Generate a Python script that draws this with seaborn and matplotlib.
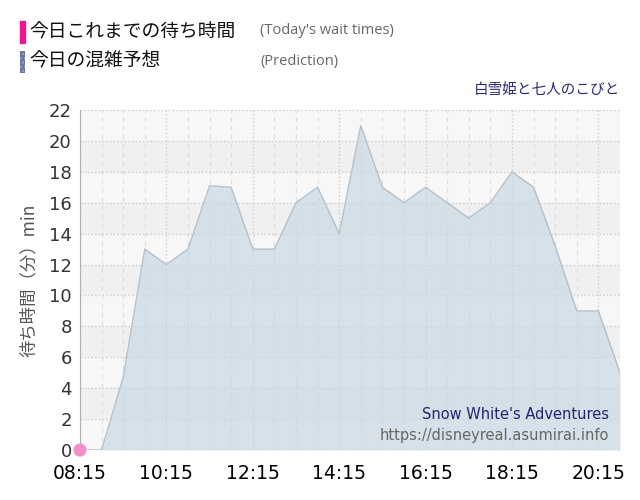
import matplotlib
matplotlib.use('Agg')
import matplotlib.pyplot as plt
from matplotlib.patches import Rectangle
import seaborn as sns
import pandas as pd

# データ (30分ごとの予想待ち時間)
times = ['08:15', '08:45', '09:15', '09:45', '10:15', '10:45', '11:15', '11:45',
         '12:15', '12:45', '13:15', '13:45', '14:15', '14:45', '15:15', '15:45',
         '16:15', '16:45', '17:15', '17:45', '18:15', '18:45', '19:15', '19:45',
         '20:15', '20:45']
prediction = [0, 0, 4.7, 13, 12, 13, 17.1, 17, 13, 13, 16, 17, 14, 21, 17, 16,
              17, 16, 15, 16, 18, 17, 13.2, 9, 9, 5]
actual_times = ['08:15']
actual_values = [0]
tick_labels = ['08:15', '10:15', '12:15', '14:15', '16:15', '18:15', '20:15']
y_ticks = list(range(0, 23, 2))


def to_min(t):
    h, m = t.split(':')
    return int(h) * 60 + int(m)


df = pd.DataFrame({'t': [to_min(t) for t in times], 'wait': prediction})
df_act = pd.DataFrame({'t': [to_min(t) for t in actual_times], 'wait': actual_values})

sns.set_style('white')
plt.rcParams['font.family'] = ['DejaVu Sans', 'Noto Sans CJK JP']
jp = ['Noto Sans CJK JP', 'DejaVu Sans']

fig = plt.figure(figsize=(6.4, 5), dpi=100)
ax = fig.add_axes([0.125, 0.1, 0.84375, 0.68])

# 背景の縞
ax.set_facecolor('#f7f7f7')
for y0 in range(2, 22, 4):
    ax.axhspan(y0, y0 + 2, color='#f0f0f0', zorder=0, lw=0)

# 予想の面グラフ
ax.fill_between(df['t'], df['wait'], color='#c9d8e4', alpha=0.7, lw=0, zorder=2)
sns.lineplot(data=df, x='t', y='wait', ax=ax, color='#b4c0ca', lw=1, zorder=3)

# 実際の待ち時間
sns.scatterplot(data=df_act, x='t', y='wait', ax=ax, color='#f291c8', s=90,
                edgecolor='none', zorder=5, clip_on=False)

ax.set_xlim(to_min('08:15'), to_min('20:45'))
ax.set_ylim(0, 22)
ax.set_yticks(y_ticks)
ax.set_xticks([to_min(t) for t in tick_labels])
ax.set_xticklabels(tick_labels)
ax.set_xticks([to_min(t) for t in times], minor=True)

ax.grid(axis='y', color='#cccccc', ls=':', lw=1, zorder=1)
ax.grid(axis='x', which='major', color='#cccccc', ls=':', lw=1, zorder=1)
ax.grid(axis='x', which='minor', color='#dddddd', ls=(0, (4, 4)), lw=0.8, zorder=1)
ax.set_axisbelow(True)

for s in ['top', 'right', 'bottom']:
    ax.spines[s].set_visible(False)
ax.spines['left'].set_color('#b0b0b0')

ax.tick_params(axis='x', which='major', labelsize=13.5, colors='#000000',
               length=8, color='#cccccc', pad=2)
ax.tick_params(axis='x', which='minor', length=0)
ax.tick_params(axis='y', labelsize=13, labelcolor='#333333', length=0, pad=6)

ax.set_xlabel('')
ax.set_ylabel('待ち時間（分）min', family=jp, fontsize=12.5, color='#555555', labelpad=8)

# 凡例 (ヘッダー)
fig.patches.append(Rectangle((20 / 640, 1 - 43 / 500), 5 / 640, 22 / 500,
                             transform=fig.transFigure, color='#f0168c'))
fig.patches.append(Rectangle((20 / 640, 1 - 73 / 500), 5 / 640, 22 / 500,
                             transform=fig.transFigure, facecolor='#6a77a4',
                             edgecolor='#9aa3c4', hatch='....', lw=0))
fig.text(29 / 640, 1 - 32 / 500, '今日これまでの待ち時間', family=jp, fontsize=13.5,
         color='#111111', va='center')
fig.text(29 / 640, 1 - 61 / 500, '今日の混雑予想', family=jp, fontsize=13.5,
         color='#111111', va='center')
fig.text(260 / 640, 1 - 31 / 500, "(Today's wait times)", family=['Open Sans'],
         fontsize=10.5, color='#666666', va='center')
fig.text(260 / 640, 1 - 61 / 500, '(Prediction)', family=['Open Sans'],
         fontsize=10.5, color='#666666', va='center')
fig.text(620 / 640, 1 - 90 / 500, '白雪姫と七人のこびと', family=jp, fontsize=10.5,
         color='#2a2a78', ha='right', va='center')

# 透かし
ax.text(0.98, 0.105, "Snow White's Adventures", transform=ax.transAxes,
        ha='right', va='center', fontsize=10.5, color='#23236e')
ax.text(0.98, 0.043, 'https://disneyreal.asumirai.info', transform=ax.transAxes,
        ha='right', va='center', fontsize=10.5, color='#666666')

fig.savefig('out.png', dpi=100)
